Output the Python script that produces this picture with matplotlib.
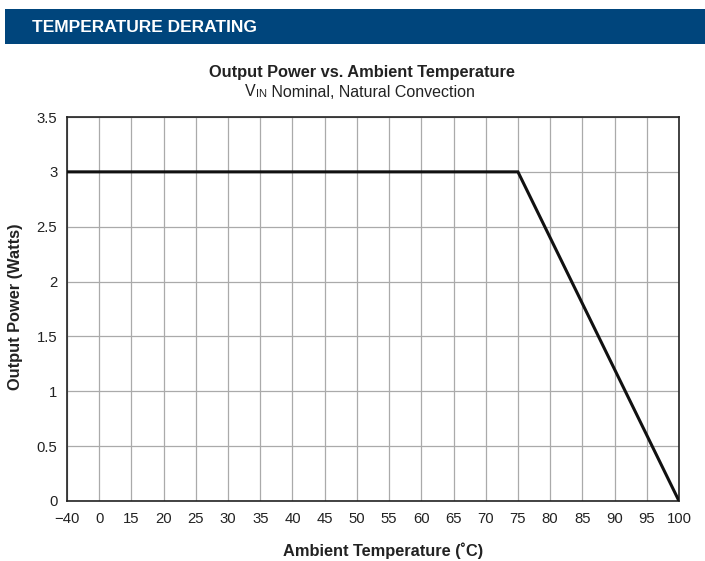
import matplotlib
matplotlib.use("Agg")
import matplotlib.pyplot as plt
from matplotlib.patches import Rectangle

plt.rcParams['font.family'] = ['Liberation Sans', 'DejaVu Sans']

# data
tick_temps = [-40, 0, 15, 20, 25, 30, 35, 40, 45, 50, 55, 60, 65, 70, 75, 80, 85, 90, 95, 100]
tick_labels = ['\u221240'] + [str(t) for t in tick_temps[1:]]
curve_temps = [-40, 75, 100]
curve_power = [3, 3, 0]
y_ticks = [0, 0.5, 1, 1.5, 2, 2.5, 3, 3.5]
y_labels = ['0', '0.5', '1', '1.5', '2', '2.5', '3', '3.5']

fig = plt.figure(figsize=(7.05, 5.61), dpi=100)

# header banner
fig.patches.append(Rectangle((5/705, 1-44/561), 1-5/705, 35/561, transform=fig.transFigure,
                             facecolor='#00457c', edgecolor='none'))
fig.text(32/705, 1-27/561, 'TEMPERATURE DERATING', color='white', fontsize=12.5,
         fontweight='bold', va='center', ha='left')

ax = fig.add_axes([67/705, 60/561, 612/705, 384/561])
pos = list(range(len(tick_temps)))
xs = [tick_temps.index(t) for t in curve_temps]
ax.plot(xs, curve_power, color='#111111', lw=2.2, zorder=3, solid_joinstyle='miter')
ax.set_xlim(0, len(tick_temps)-1)
ax.set_ylim(0, 3.5)
ax.set_xticks(pos)
ax.set_xticklabels(tick_labels)
ax.set_yticks(y_ticks)
ax.set_yticklabels(y_labels)
ax.tick_params(length=0, labelsize=10.75, colors='#222222')
ax.tick_params(axis='x', pad=8)
ax.tick_params(axis='y', pad=7)
ax.grid(True, color='#aaaaaa', lw=0.9)
for s in ax.spines.values():
    s.set_color('#222222')
    s.set_linewidth(1.2)

fig.text(362/705, 1-72/561, 'Output Power vs. Ambient Temperature', ha='center', va='center',
         fontsize=11.75, fontweight='bold', color='#222222')
t1 = fig.text(245/705, 1-99/561, 'V', ha='left', va='bottom', fontsize=11.5, color='#222222')
t2 = ax.annotate('IN', xy=(1, 0), xycoords=t1, ha='left', va='bottom', fontsize=8, color='#222222')
ax.annotate(' Nominal, Natural Convection', xy=(1, 0), xycoords=t2, ha='left', va='bottom',
            fontsize=11.5, color='#222222', xytext=(0, -0.7), textcoords='offset points')

fig.text(16/705, 1-307/561, 'Output Power (Watts)', rotation=90, ha='center', va='center',
         fontsize=11.75, fontweight='bold', color='#222222')
fig.text(383/705, 1-551/561, 'Ambient Temperature (\u02daC)', ha='center', va='center',
         fontsize=11.75, fontweight='bold', color='#222222')

fig.savefig('out.png', dpi=100)
